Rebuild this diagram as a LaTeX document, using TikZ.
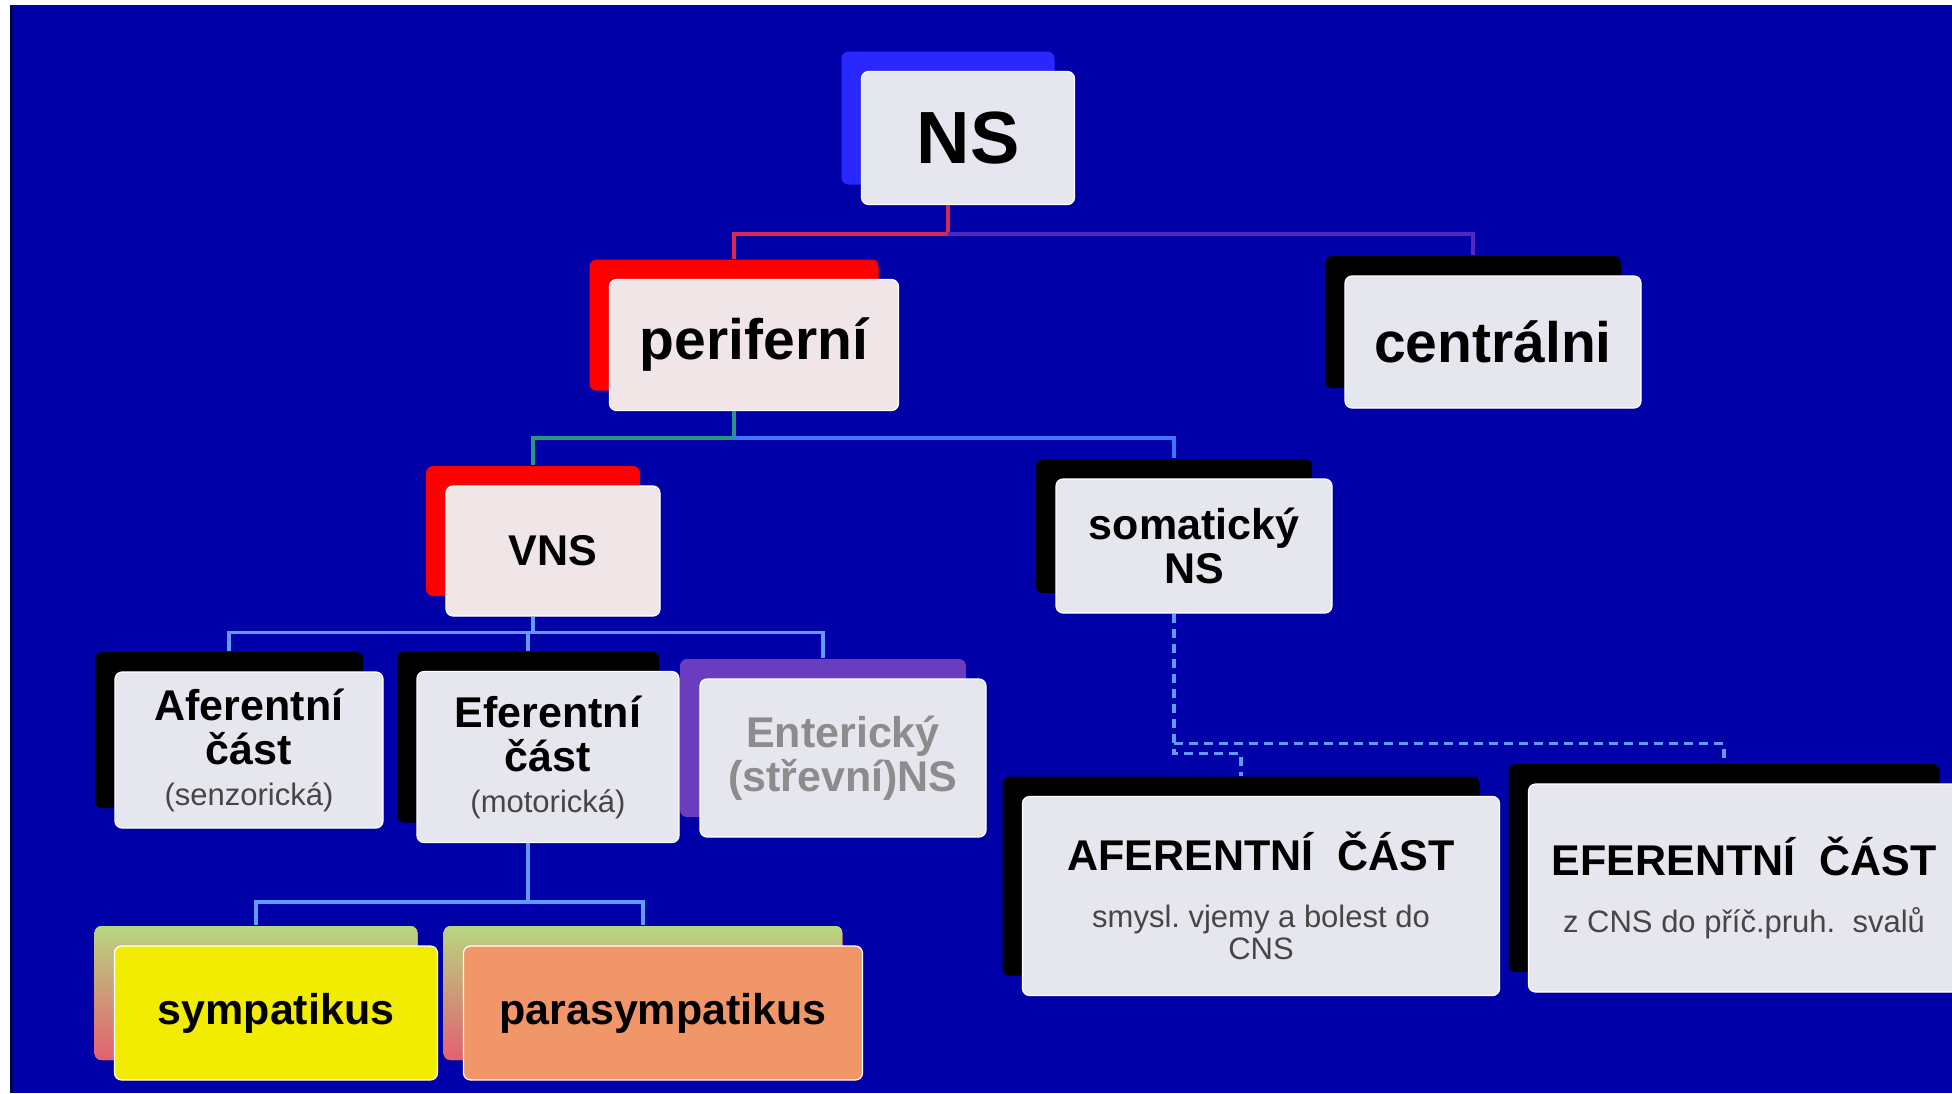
\documentclass[tikz,border=0pt]{standalone}
\usepackage{fontspec}
\setmainfont{Liberation Sans}
\usepackage{xcolor}
\usetikzlibrary{calc,shadows}
\definecolor{bgblue}{RGB}{0,0,168}
\definecolor{bgedge}{RGB}{0,0,90}
\definecolor{boxfill}{RGB}{230,230,238}
\definecolor{boxpink}{RGB}{240,230,232}
\definecolor{nsblue}{RGB}{40,40,255}
\definecolor{entpurple}{RGB}{106,60,190}
\definecolor{entgray}{RGB}{140,140,140}
\definecolor{symyellow}{RGB}{242,236,0}
\definecolor{parorange}{RGB}{240,150,104}
\definecolor{backtop}{RGB}{184,214,128}
\definecolor{backbot}{RGB}{226,96,112}
\definecolor{linkred}{RGB}{214,40,80}
\definecolor{linkpurple}{RGB}{84,40,190}
\definecolor{linkteal}{RGB}{40,150,130}
\definecolor{linkblue}{RGB}{60,120,250}
\definecolor{linklight}{RGB}{96,156,255}
\definecolor{subgray}{RGB}{70,70,70}
\newcommand{\nsfont}{\fontsize{74}{80}\selectfont\bfseries}
\newcommand{\topfont}{\fontsize{57}{60}\selectfont\bfseries}
\newcommand{\midfont}{\fontsize{43}{44}\selectfont\bfseries}
\newcommand{\subtxt}{\fontsize{31}{32}\selectfont\mdseries}

\begin{document}
\begin{tikzpicture}[x=1pt,y=-1pt,
  card/.style={draw=white,line width=1.2pt,fill=boxfill,rounded corners=7pt,inner sep=0pt,align=center,
    copy shadow={shadow xshift=-20pt,shadow yshift=20pt,draw=none,fill=#1}},
  fadecard/.style={draw=white,line width=1.2pt,rounded corners=7pt,inner sep=0pt,align=center,
    copy shadow={shadow xshift=-20pt,shadow yshift=20pt,draw=none,top color=backtop,bottom color=backbot}},
  link/.style={line width=3.5pt}]
\useasboundingbox (0,0) rectangle (1952,1093);
\clip (0,0) rectangle (1952,1093);
\fill[white] (0,0) rectangle (1952,1093);
\fill[bgblue] (10,5) rectangle (1952,1093);
\draw[bgedge,line width=3pt] (11.5,5)--(11.5,1093);
% top levels
\node[card=nsblue,minimum width=213,minimum height=133,font=\nsfont] (ns) at (968,138) {NS};
\node[card=red,fill=boxpink,minimum width=289,minimum height=131,font=\topfont] (per) at (754,345) {periferní};
\node[card=black,minimum width=296,minimum height=132,font=\topfont] (cen) at (1493,342) {centrálni};
\node[card=red,fill=boxpink,minimum width=214,minimum height=130,font=\midfont] (vns) at (553,551) {VNS};
\node[card=black,minimum width=276,minimum height=134,font=\midfont] (som) at (1194,546) {somatický\\NS};
% VNS parts
\node[card=black,minimum width=268,minimum height=156,font=\midfont] (afe) at (249,750)
  {Aferentní\\část\\[-3pt]{\subtxt\color{subgray}(senzorická)}};
\node[card=black,minimum width=262,minimum height=171,font=\midfont] (efe) at (548,757)
  {Eferentní\\část\\[-3pt]{\subtxt\color{subgray}(motorická)}};
\node[card=entpurple,minimum width=286,minimum height=158,font=\midfont,text=entgray] (ent) at (843,758)
  {Enterický\\(střevní)NS};
\node[fadecard,fill=symyellow,minimum width=323,minimum height=134,font=\midfont] (sym) at (276,1013) {sympatikus};
\node[fadecard,fill=parorange,minimum width=399,minimum height=134,font=\midfont] (par) at (663,1013) {parasympatikus};
% somatic parts
\node[card=black,minimum width=477,minimum height=199,font=\midfont] (aff) at (1261,896)
  {AFERENTNÍ\ \ ČÁST\\[13pt]{\subtxt\color{subgray}smysl.\ vjemy\ a bolest do}\\[-12pt]{\subtxt\color{subgray}CNS}};
\node[card=black,minimum width=431,minimum height=208,font=\midfont] (eff) at (1744,888)
  {EFERENTNÍ\ \ ČÁST\\[13pt]{\subtxt\color{subgray}z CNS do příč.pruh.\ \ svalů}};
% connectors
\draw[link,linkred] ($(ns.south)+(-20,0)$) -- ++(0,29) -| ($(per.north)+(-20,-20)$);
\draw[link,linkpurple] ($(ns.south)+(-20,29)$) -| ($(cen.north)+(-20,-20)$);
\draw[link,linkteal] ($(per.south)+(-20,0)$) -- ++(0,27) -| ($(vns.north)+(-20,-20)$);
\draw[link,linkblue] ($(per.south)+(-20,27)$) -| ($(som.north)+(-20,-20)$);
\draw[link,linklight] ($(vns.south)+(-20,0)$) -- ++(0,16);
\foreach \c in {afe,efe,ent}
  \draw[link,linklight] ($(vns.south)+(-20,16)$) -| ($(\c.north)+(-20,-20)$);
\draw[link,linklight] ($(efe.south)+(-20,0)$) -- ++(0,59);
\foreach \c in {sym,par}
  \draw[link,linklight] ($(efe.south)+(-20,59)$) -| ($(\c.north)+(-20,-20)$);
\draw[link,linklight,dash pattern=on 9pt off 6pt] ($(som.south)+(-20,0)$) -- ++(0,140) -| ($(aff.north)+(-20,-20)$);
\draw[link,linklight,dash pattern=on 9pt off 6pt] ($(som.south)+(-20,130)$) -| ($(eff.north)+(-20,-20)$);
\end{tikzpicture}
\end{document}
